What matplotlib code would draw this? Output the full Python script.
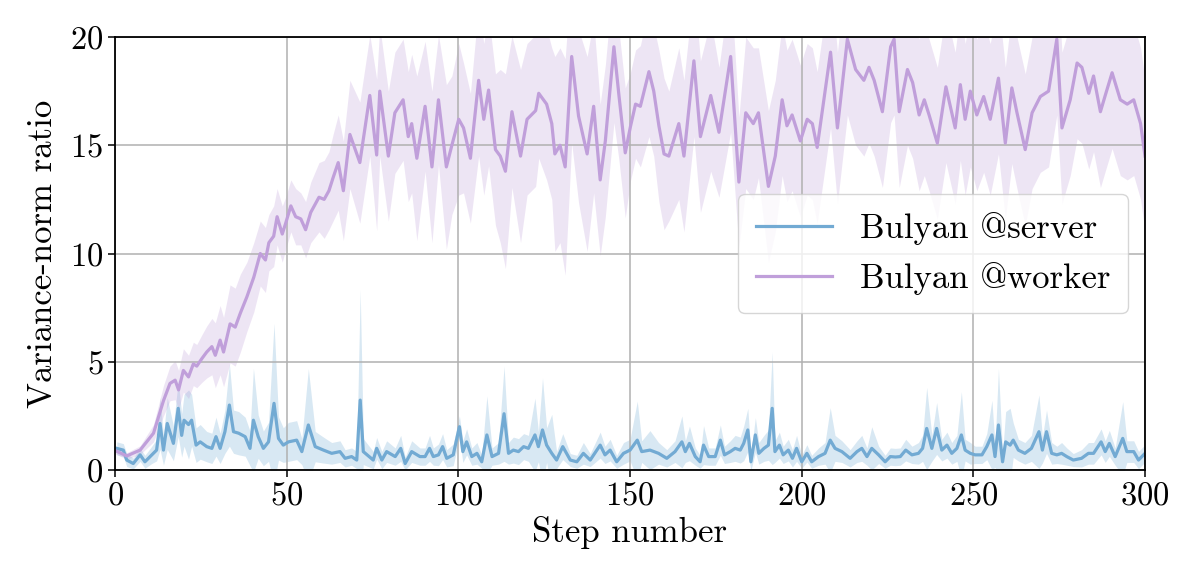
import numpy as np
import matplotlib
matplotlib.use('Agg')
import matplotlib.pyplot as plt

# values
worker_steps = [0, 3.4, 7.3, 11.2, 14.1, 16, 17.5, 18.5, 19.9, 21.4, 22.8, 23.8, 25.3, 26.7, 28.2, 29.2,
                30.6, 31.6, 33.5, 35, 36.5, 38.4, 40.4, 42.3, 43.8, 44.8, 46.2, 47.2, 48.7, 49.7, 51.2,
                52.6, 54.1, 55.5, 57, 59.4, 60.9, 62.3, 63.5, 65, 66.5, 68.4, 71.3, 74.2, 76.2, 77.1,
                79.6, 81.5, 83.9, 85.4, 86.4, 87.9, 90.3, 92.3, 94.2, 96.5, 98.1, 100.1, 101.5, 103.5,
                105.9, 107.4, 108.8, 110.8, 112.2, 113.7, 115.6, 118.1, 120, 122.5, 123.4, 125.7, 127.2,
                128.1, 129.6, 131.1, 133, 135, 137.5, 139.4, 141.3, 142.8, 145.3, 146.7, 148.6, 150.1,
                151.6, 153, 155.5, 156.9, 158.4, 159.9, 161.3, 164.2, 165.7, 168.6, 170.5, 173.5, 175.9,
                179.3, 181.7, 183.7, 185.9, 187.4, 190.3, 192.3, 194.3, 195.7, 197.2, 199.6, 201.6, 203.1,
                204.5, 208.4, 210.4, 213.3, 215.7, 218.1, 219.6, 221.1, 223.5, 225.9, 226.9, 228.4, 230.8,
                232.3, 234.2, 235.7, 237.1, 239.5, 242, 243.7, 244.7, 246.2, 247.6, 249.1, 251.0, 253.0,
                254.9, 257.3, 259.3, 261.2, 262.7, 265.1, 267.1, 269.5, 271.9, 274.3, 275.8, 278.2, 280.2,
                281.6, 283.6, 285.0, 287.0, 288.4, 290.4, 292.8, 294.8, 296.7, 298.7, 300]
worker_mean = [0.9, 0.65, 0.92, 1.7, 3.2, 4.0, 4.15, 3.7, 4.6, 4.3, 4.9, 4.8, 5.15, 5.45, 5.7, 5.3,
               6.0, 5.45, 6.75, 6.6, 7.25, 8.0, 8.9, 10.0, 9.7, 10.5, 10.8, 11.7, 10.9, 11.4, 12.2,
               11.7, 11.6, 11.1, 11.9, 12.6, 12.5, 12.9, 13.5, 14.2, 12.9, 15.5, 14.2, 17.3, 14.55, 17.5,
               14.5, 16.5, 17.1, 15.4, 16.0, 14.4, 16.8, 14.0, 17.1, 14.0, 15.0, 16.2, 15.8, 14.4,
               18.0, 16.2, 17.55, 14.8, 14.5, 13.8, 16.55, 14.5, 16.2, 16.6, 17.4, 16.9, 16.0,
               14.6, 15.0, 14.0, 19.1, 16.35, 14.6, 16.8, 13.4, 15.2, 19.55, 17.4, 14.65, 15.85,
               16.9, 16.8, 18.4, 17.5, 15.9, 14.6, 14.5, 16.0, 14.5, 18.9, 15.4, 17.3, 15.6,
               19.1, 13.3, 16.5, 16.0, 16.5, 13.1, 14.5, 17.1, 15.9, 16.4, 15.2, 16.2, 16.0,
               14.9, 19.3, 15.8, 19.9, 18.5, 18.0, 18.6, 18.0, 16.55, 19.55, 19.9, 16.55, 18.5,
               17.9, 16.4, 17.1, 16.4, 15.1, 17.7, 16.5, 15.8, 17.8, 16.2, 17.5, 16.4, 17.25,
               16.2, 18.1, 15.1, 17.65, 16.5, 14.8, 16.5, 17.25, 17.5, 19.9, 15.8, 17.1, 18.8,
               18.6, 17.4, 18.2, 16.55, 17.3, 18.35, 17.1, 16.9, 17.1, 16.0, 14.5]
worker_spread = [0.15, 0.15, 0.2, 0.4, 0.7, 0.8, 0.9, 0.9, 1.0, 1.0, 1.0, 1.0, 1.1, 1.2, 1.3, 1.5,
                 1.6, 1.6, 1.8, 1.8, 1.8, 1.6, 1.6, 1.5, 1.5, 1.3, 1.4, 1.3, 1.3, 1.2, 1.2,
                 1.3, 1.2, 1.3, 1.4, 1.6, 1.8, 1.8, 2.0, 2.2, 2.3, 2.5, 2.8, 2.8, 3.5, 3.0,
                 3.0, 2.8, 2.8, 3.0, 3.2, 3.8, 3.0, 3.5, 3.0, 3.8, 3.2, 3.5, 3.0, 3.0,
                 3.5, 3.5, 3.5, 3.5, 4.0, 4.5, 3.5, 4.0, 3.5, 3.5, 3.0, 3.5, 3.5,
                 4.5, 4.5, 5.0, 4.0, 4.0, 4.5, 4.0, 3.5, 3.5, 3.5, 3.0, 3.0, 2.5,
                 2.5, 2.8, 3.0, 3.0, 3.5, 3.5, 3.0, 3.5, 3.5, 3.5, 3.5, 3.5, 3.0,
                 3.5, 3.0, 3.5, 3.5, 3.0, 3.5, 3.5, 3.5, 3.5, 3.5, 3.5, 3.5, 3.5,
                 3.5, 3.5, 3.5, 3.5, 3.5, 3.5, 3.5, 3.5, 3.5, 3.5, 3.5, 3.5, 3.5,
                 3.5, 3.5, 3.5, 3.5, 3.5, 3.5, 3.5, 3.5, 3.5, 3.5, 3.5, 3.5, 3.5,
                 3.5, 3.5, 3.5, 3.5, 3.5, 3.5, 3.5, 3.5, 3.5, 3.5, 3.5, 3.5, 3.5,
                 3.5, 3.5, 3.5, 3.5, 3.5, 3.5, 3.5, 3.5, 3.5, 3.5, 3.5]

server_steps = [0.5, 2.4, 3.4, 5.3, 7.3, 8.7, 10.7, 12.1, 13.1, 14.1, 15.2, 17, 18.4, 19.4, 20.1, 21.4,
                22.3, 23.6, 24.8, 26.7, 28.2, 29.4, 30.6, 32, 33.3, 34.5, 36, 37.9, 39.3, 40.3, 41.7,
                43.2, 44.7, 46.3, 47.6, 49, 50.5, 52.9, 54.4, 56.3, 58.3, 60.7, 63.1, 65.5, 67, 68.9,
                70.4, 71.4, 72.3, 75.2, 76.2, 77.7, 79.1, 81.6, 83.2, 84.5, 86.4, 88.8, 90.3, 91.6,
                92.7, 94.2, 95.4, 96.6, 98.5, 100.3, 101.3, 102.4, 103.9, 105.4, 106.8, 108.3, 109.8,
                111.7, 113.3, 114.6, 116, 117.5, 119, 120.4, 122.3, 123.3, 124.5, 125.7, 127.2, 128.6,
                130.4, 132.6, 134.5, 136.4, 138.4, 141.3, 142.7, 144.2, 146.1, 148.1, 150, 152.1, 153.4,
                155.8, 158.3, 160.7, 163.1, 165.1, 166.1, 167.3, 169, 170.4, 171.4, 172.9, 174.8, 176.3,
                177.5, 179.2, 180.6, 182.1, 183.1, 184.3, 185.2, 186.5, 187.5, 189, 190.3, 191.4, 192.2,
                193.5, 194.6, 196.1, 197.3, 198.5, 200, 201.5, 202.9, 204.9, 206.8, 208.3, 209.7, 211.7,
                214.1, 216.1, 217.5, 219, 220.4, 222.4, 224.3, 225.8, 227.3, 228.7, 230.3, 232.1, 234,
                235.2, 236.4, 237.9, 239.3, 240.8, 242.3, 243.7, 245.2, 246.5, 247.6, 249.1, 250.5,
                252.5, 253.9, 255.4, 256.3, 257.3, 258.5, 259.4, 260.7, 261.6, 263.1, 265, 266.9, 269.1,
                270.1, 271.3, 272.8, 274.3, 275.7, 277.2, 279.1, 281.5, 283.5, 285, 287.2, 288.4, 289.6,
                291.3, 293.5, 294.7, 296.7, 298.1, 300]
server_mean = [1.0, 0.92, 0.46, 0.3, 0.7, 0.38, 0.7, 0.92, 2.15, 0.92, 2.15, 1.23, 2.85, 1.6, 2.3, 2.1,
               2.3, 1.15, 1.3, 1.08, 1.0, 1.54, 1.0, 1.77, 3.0, 1.77, 1.7, 1.54, 1.0, 2.3, 1.54,
               1.0, 1.3, 3.08, 1.46, 1.15, 1.3, 1.38, 0.85, 2.08, 1.08, 0.92, 0.77, 0.85, 0.54, 0.62,
               0.46, 3.23, 0.85, 0.46, 1.0, 0.46, 0.85, 0.62, 1.0, 0.3, 0.85, 0.62, 0.62, 1.0,
               0.62, 0.7, 1.08, 0.54, 0.7, 2.0, 0.85, 1.3, 0.62, 0.77, 0.38, 1.62, 0.62,
               0.77, 2.6, 0.77, 0.92, 0.85, 1.08, 1.0, 1.62, 1.08, 1.85, 1.15, 0.77, 0.46,
               1.08, 0.46, 0.38, 0.77, 0.46, 1.15, 0.7, 0.92, 0.38, 0.77, 0.92, 1.38, 0.85,
               0.92, 0.77, 0.54, 0.85, 1.3, 0.85, 1.23, 0.62, 0.38, 1.15, 0.62, 0.62, 1.38,
               0.7, 0.85, 1.0, 0.92, 1.23, 1.85, 0.38, 1.62, 0.77, 1.0, 1.15, 2.85, 0.85,
               1.15, 0.7, 0.92, 0.54, 1.0, 0.38, 0.77, 0.38, 0.62, 0.77, 1.38, 1.0, 0.85,
               0.54, 0.85, 1.0, 0.62, 1.0, 0.7, 0.38, 0.62, 0.6, 0.62, 0.92, 0.7, 0.77,
               1.0, 1.92, 1.0, 1.92, 0.92, 1.15, 0.77, 1.0, 1.62, 0.92, 0.77, 0.7,
               0.7, 1.08, 1.62, 0.62, 2.08, 0.38, 1.3, 1.15, 1.38, 0.92, 0.77, 1.0, 1.77,
               0.92, 1.77, 0.77, 0.7, 0.77, 0.62, 0.46, 0.54, 0.77, 0.77, 1.3, 0.85, 1.23,
               0.62, 1.46, 0.85, 0.85, 0.46, 0.77]
server_spread = [0.3, 0.3, 0.3, 0.25, 0.3, 0.3, 0.4, 0.5, 1.2, 0.7, 1.2, 0.8, 1.3, 1.0, 1.2, 1.6,
                 1.2, 0.8, 0.8, 0.7, 0.7, 0.9, 0.7, 1.0, 1.9, 1.0, 1.0, 0.9, 0.8, 2.4, 1.0,
                 0.8, 0.9, 3.7, 1.0, 0.8, 0.9, 0.9, 0.6, 2.6, 0.7, 0.6, 0.5, 0.5, 0.4, 0.4,
                 0.4, 5.1, 0.6, 0.4, 0.5, 0.4, 0.5, 0.4, 0.6, 0.3, 0.5, 0.4, 0.4, 0.6,
                 0.4, 0.5, 0.6, 0.4, 0.5, 0.5, 0.5, 0.6, 0.4, 0.5, 0.3, 1.8, 0.4,
                 0.5, 2.2, 0.5, 0.6, 0.6, 0.6, 0.6, 1.7, 0.7, 2.4, 0.8, 1.8, 0.4,
                 0.6, 0.3, 0.3, 0.5, 0.3, 0.6, 0.4, 0.5, 0.3, 0.5, 0.5, 1.8, 0.5,
                 0.9, 0.5, 0.4, 0.5, 1.2, 0.5, 0.8, 0.4, 0.3, 0.9, 0.4, 0.4, 0.7,
                 0.4, 0.5, 0.6, 0.6, 0.8, 1.0, 0.4, 0.8, 0.5, 0.6, 0.7, 2.6, 0.5,
                 0.6, 0.4, 0.5, 0.4, 0.6, 0.3, 0.4, 0.3, 0.4, 0.5, 1.5, 0.6, 0.5,
                 0.4, 0.5, 0.6, 0.4, 1.0, 0.4, 0.3, 0.4, 0.4, 0.4, 0.5, 0.4, 0.5,
                 0.6, 1.9, 0.6, 1.2, 0.5, 0.6, 0.5, 0.6, 2.0, 0.5, 0.5, 0.4,
                 0.4, 0.6, 1.6, 0.5, 2.6, 0.4, 1.4, 1.7, 0.8, 0.5, 0.5, 0.6, 1.7,
                 0.6, 1.0, 0.5, 0.4, 0.5, 0.4, 0.3, 0.4, 0.5, 0.5, 0.6, 0.5, 0.6,
                 0.4, 1.7, 0.5, 0.5, 0.4, 0.4]

labels = ['Bulyan @server', 'Bulyan @worker']
colors = ['#72aad3', '#c09fda']

plt.rcParams['font.family'] = 'serif'
plt.rcParams['font.serif'] = ['cmr10', 'DejaVu Serif']
plt.rcParams['mathtext.fontset'] = 'cm'
plt.rcParams['axes.formatter.use_mathtext'] = True
plt.rcParams['font.size'] = 23.5

fig = plt.figure(figsize=(11.96, 5.83), dpi=100)
ax = fig.add_axes([0.0962, 0.1938, 0.8612, 0.7427])

series = [(server_steps, server_mean, server_spread), (worker_steps, worker_mean, worker_spread)]
for (xs, ys, sd), lab, col in zip(series, labels, colors):
    xs = np.array(xs)
    ys = np.array(ys)
    sd = np.array(sd)
    ax.fill_between(xs, ys - sd, ys + sd, color=col, alpha=0.27, linewidth=0)
    ax.plot(xs, ys, color=col, linewidth=2.3, label=lab)

ax.set_xlim(0, 300)
ax.set_ylim(0, 20)
ax.set_xticks([0, 50, 100, 150, 200, 250, 300])
ax.set_yticks([0, 5, 10, 15, 20])
ax.grid(True, color='#b0b0b0', linewidth=1.1)
ax.set_xlabel('Step number', fontsize=25, labelpad=4)
ax.set_ylabel('Variance-norm ratio', fontsize=25, labelpad=8)
ax.tick_params(length=5, width=1.1, labelsize=23.5)
for s in ax.spines.values():
    s.set_linewidth(1.3)
ax.legend(loc='center right', fontsize=25, handlelength=2.2, borderpad=0.5)

fig.savefig('out.png', dpi=100)
